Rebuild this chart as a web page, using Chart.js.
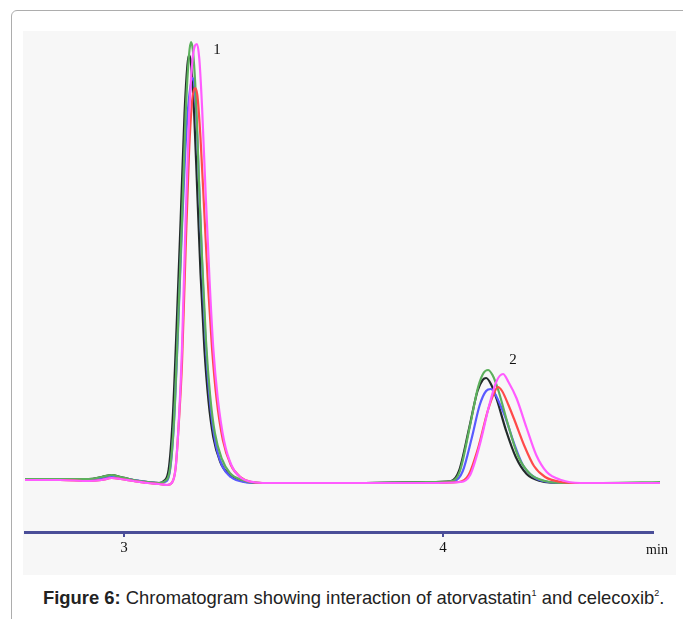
<!DOCTYPE html>
<html>
<head>
<meta charset="utf-8">
<script src="https://cdn.jsdelivr.net/npm/chart.js@4.4.0/dist/chart.umd.min.js"></script>
<style>
  body { margin: 0; background: #fff; overflow: hidden; width: 683px; height: 619px; position: relative; }
  #frame { position: absolute; left: 11px; top: 10px; width: 700px; height: 640px; border: 1.5px solid #adadad; border-radius: 6px; }
  #panel { position: absolute; left: 23px; top: 31px; width: 653px; height: 544px; background: #f7f7f7; }
  #caption { position: absolute; left: 43px; top: 587px; font-family: "Liberation Sans", Arial, sans-serif; font-size: 18.4px; color: #222; white-space: nowrap; }
  sup { font-size: 9px; vertical-align: 8px; line-height: 0; }
</style>
</head>
<body>
<div id="frame"></div>
<div id="panel"><canvas id="chromChart" width="653" height="544"></canvas></div>
<div id="caption"><b>Figure 6:</b> Chromatogram showing interaction of atorvastatin<sup>1</sup> and celecoxib<sup>2</sup>.</div>
<script>
// retention time (min) and detector signal (arbitrary units) for each run
const greenTime = [2.690, 2.800, 2.890, 2.930, 2.962, 2.990, 3.030, 3.075, 3.110, 3.129, 3.144, 3.157, 3.169, 3.182, 3.194, 3.204, 3.210, 3.216, 3.226, 3.235, 3.245, 3.257, 3.270, 3.285, 3.307, 3.332, 3.370, 3.430, 3.700, 3.950, 4.028, 4.053, 4.085, 4.110, 4.127, 4.141, 4.155, 4.172, 4.204, 4.235, 4.273, 4.320, 4.370, 4.500, 4.680];
const greenSignal = [4, 4, 4, 6, 8, 6, 3, 1, 0, 2, 13, 63, 153, 263, 373, 428, 441, 433, 383, 303, 223, 143, 88, 50, 24, 10, 3, 0, 0, 1, 2, 12, 58, 96, 110, 113, 108, 94, 58, 27, 9, 2, 0, 0, 1];

const blackTime = [2.690, 2.800, 2.890, 2.930, 2.962, 2.990, 3.030, 3.075, 3.110, 3.125, 3.140, 3.153, 3.165, 3.178, 3.190, 3.199, 3.204, 3.210, 3.220, 3.230, 3.240, 3.252, 3.265, 3.280, 3.302, 3.330, 3.370, 3.430, 3.700, 3.950, 4.025, 4.050, 4.082, 4.108, 4.124, 4.135, 4.150, 4.168, 4.198, 4.228, 4.262, 4.305, 4.370, 4.500, 4.680];
const blackSignal = [4, 4, 4, 6, 8, 6, 3, 1, 0, 2, 13, 65, 155, 265, 370, 418, 428, 420, 370, 290, 210, 135, 82, 46, 21, 8, 2, 0, 0, 1, 2, 12, 55, 92, 103, 105, 99, 84, 52, 26, 9, 2, 0, 0, 0];

const blueTime = [2.690, 2.800, 2.890, 2.930, 2.962, 2.990, 3.030, 3.075, 3.110, 3.128, 3.143, 3.156, 3.168, 3.180, 3.192, 3.204, 3.216, 3.222, 3.230, 3.240, 3.250, 3.260, 3.272, 3.287, 3.308, 3.335, 3.375, 3.430, 3.700, 3.950, 4.035, 4.062, 4.090, 4.115, 4.135, 4.150, 4.165, 4.182, 4.195, 4.222, 4.250, 4.285, 4.330, 4.390, 4.500, 4.680];
const blueSignal = [3, 3, 3, 5, 6, 5, 3, 1, 0, 1, 10, 55, 140, 240, 330, 385, 405, 395, 345, 260, 180, 120, 74, 40, 17, 6, 1, 0, 0, 0, 2, 12, 45, 78, 92, 94, 88, 76, 66, 40, 18, 6, 1, 0, 0, 0];

const redTime = [2.690, 2.800, 2.890, 2.930, 2.962, 2.990, 3.030, 3.075, 3.110, 3.135, 3.150, 3.162, 3.172, 3.182, 3.193, 3.204, 3.214, 3.223, 3.230, 3.240, 3.252, 3.264, 3.276, 3.290, 3.310, 3.335, 3.365, 3.400, 3.450, 3.700, 3.950, 4.050, 4.080, 4.110, 4.140, 4.160, 4.172, 4.185, 4.205, 4.225, 4.255, 4.285, 4.320, 4.370, 4.420, 4.500, 4.680];
const redSignal = [3, 3, 2, 3, 5, 4, 2, 0, -1, -2, 0, 15, 60, 120, 230, 330, 383, 395, 388, 345, 270, 195, 135, 85, 43, 18, 6, 1, 0, 0, 0, 1, 8, 35, 72, 90, 96, 92, 78, 62, 37, 17, 6, 1, 0, 0, 0];

const magentaTime = [2.690, 2.800, 2.890, 2.930, 2.962, 2.990, 3.030, 3.075, 3.110, 3.135, 3.150, 3.162, 3.172, 3.182, 3.193, 3.204, 3.214, 3.222, 3.229, 3.236, 3.245, 3.256, 3.268, 3.280, 3.294, 3.314, 3.338, 3.368, 3.405, 3.450, 3.700, 3.950, 4.055, 4.085, 4.115, 4.145, 4.168, 4.188, 4.205, 4.230, 4.262, 4.292, 4.325, 4.370, 4.430, 4.500, 4.680];
const magentaSignal = [3, 3, 2, 3, 5, 4, 2, 0, -1, -2, 0, 15, 62, 135, 260, 365, 420, 437, 439, 425, 375, 290, 205, 135, 85, 42, 17, 5, 1, 0, 0, 0, 1, 8, 38, 78, 102, 109, 101, 85, 55, 28, 11, 3, 0, 0, 0];

const timeTicks = [3, 4];
const peakLabels = [{ text: '1', t: 3.292, v: 433 }, { text: '2', t: 4.219, v: 123 }];

function pts(times, values) {
    return times.map((t, i) => ({ x: t, y: values[i] }));
}

const axisColor = '#4a4e98';
const serif = '"Liberation Serif", "Times New Roman", serif';

const labelPlugin = {
    id: 'peakText',
    afterDraw(chart) {
        const c = chart.ctx;
        const xs = chart.scales.x, ys = chart.scales.y;
        c.save();
        c.fillStyle = '#111';
        c.font = '15px ' + serif;
        c.textAlign = 'center';
        c.textBaseline = 'middle';
        peakLabels.forEach(p => c.fillText(p.text, xs.getPixelForValue(p.t), ys.getPixelForValue(p.v)));
        c.font = '14px ' + serif;
        c.fillText('min', chart.chartArea.right + 4, chart.chartArea.bottom + 18);
        c.restore();
    }
};

const makeSet = (times, values, color) => ({
    data: pts(times, values),
    borderColor: color,
    borderWidth: 2.2,
    pointRadius: 0,
    fill: false,
    cubicInterpolationMode: 'monotone',
    clip: false
});

const config = {
    type: 'line',
    data: {
        datasets: [
            makeSet(magentaTime, magentaSignal, '#ff5cff'),
            makeSet(redTime, redSignal, '#ff4a4a'),
            makeSet(greenTime, greenSignal, '#5cb05c'),
            makeSet(blueTime, blueSignal, '#5a5aff'),
            makeSet(blackTime, blackSignal, '#222a2a')
        ]
    },
    options: {
        responsive: false,
        animation: false,
        devicePixelRatio: 1,
        layout: { padding: { left: 2, right: 23, top: 0, bottom: 0 } },
        plugins: { legend: { display: false }, tooltip: { enabled: false } },
        scales: {
            x: {
                type: 'linear',
                min: 2.69,
                max: 4.658,
                afterBuildTicks: s => { s.ticks = timeTicks.map(v => ({ value: v })); },
                afterFit: s => { s.height = 43; },
                grid: { drawOnChartArea: false, drawTicks: true, tickLength: 5, color: axisColor, lineWidth: 2 },
                border: { display: true, color: axisColor, width: 3 },
                ticks: {
                    color: '#111',
                    padding: 2,
                    font: { family: serif, size: 15 }
                }
            },
            y: { display: false, min: -49, max: 452 }
        }
    },
    plugins: [labelPlugin]
};

new Chart(document.getElementById('chromChart').getContext('2d'), config);
</script>
</body>
</html>
